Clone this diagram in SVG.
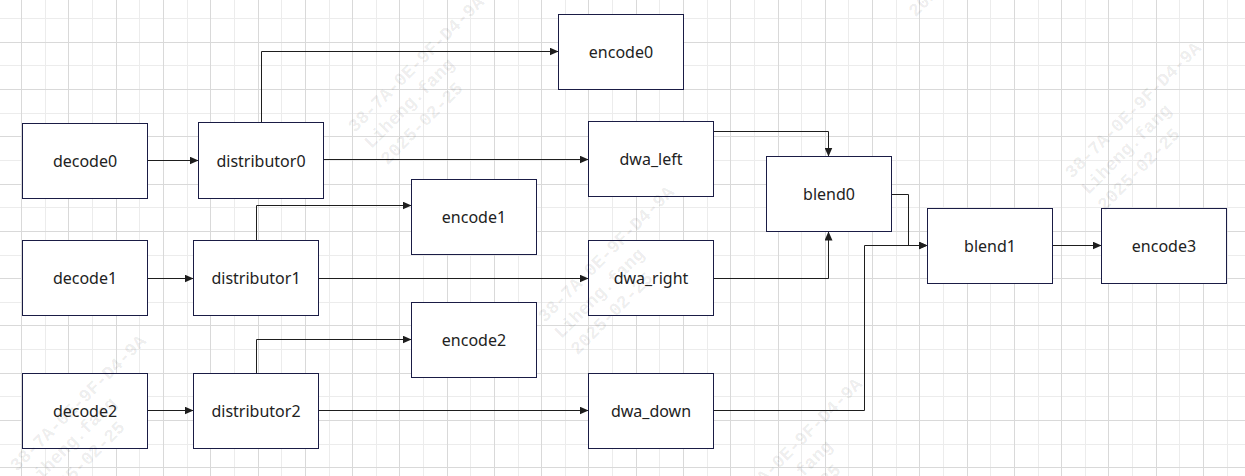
<svg xmlns="http://www.w3.org/2000/svg" width="1245" height="476" viewBox="0 0 1245 476">
<style>
.gmaj{stroke:#d9d9d9;stroke-width:1;fill:none}
.gmin{stroke:#ececec;stroke-width:1;fill:none}
.wm{font-family:"Liberation Mono",monospace;font-weight:bold;font-size:18px;fill:#000000;fill-opacity:0.085}
.box{fill:#ffffff;stroke:#1a1c45;stroke-width:1}
.lbl{font-family:"Noto Sans","Liberation Sans",sans-serif;font-size:16px;fill:#222222;text-anchor:middle}
.con{fill:none;stroke:#1e1e1e;stroke-width:1;marker-end:url(#arr)}
</style>
<defs>
<marker id="arr" markerUnits="userSpaceOnUse" markerWidth="9" markerHeight="8" refX="9" refY="4" orient="auto">
<path d="M0,0 L9,4 L0,8 z" fill="#1e1e1e"/>
</marker>
</defs>
<rect x="0" y="0" width="1245" height="476" fill="#ffffff"/>
<g id="grid">
<path class="gmin" d="M45.5,0V476M92.5,0V476M139.5,0V476M187.5,0V476M234.5,0V476M281.5,0V476M329.5,0V476M376.5,0V476M423.5,0V476M470.5,0V476M518.5,0V476M565.5,0V476M612.5,0V476M659.5,0V476M707.5,0V476M754.5,0V476M801.5,0V476M848.5,0V476M896.5,0V476M943.5,0V476M990.5,0V476M1038.5,0V476M1085.5,0V476M1132.5,0V476M1179.5,0V476M1227.5,0V476M0,18.5H1245M0,65.5H1245M0,113.5H1245M0,160.5H1245M0,207.5H1245M0,255.5H1245M0,302.5H1245M0,349.5H1245M0,396.5H1245M0,444.5H1245"/>
<path class="gmaj" d="M21.5,0V476M68.5,0V476M116.5,0V476M163.5,0V476M210.5,0V476M258.5,0V476M305.5,0V476M352.5,0V476M399.5,0V476M447.5,0V476M494.5,0V476M541.5,0V476M588.5,0V476M636.5,0V476M683.5,0V476M730.5,0V476M778.5,0V476M825.5,0V476M872.5,0V476M919.5,0V476M967.5,0V476M1014.5,0V476M1061.5,0V476M1108.5,0V476M1156.5,0V476M1203.5,0V476M0,42.5H1245M0,89.5H1245M0,136.5H1245M0,184.5H1245M0,231.5H1245M0,278.5H1245M0,325.5H1245M0,373.5H1245M0,420.5H1245M0,467.5H1245"/>
</g>
<g id="connectors">
<path class="con" d="M147.5,160.5H198.5"/>
<path class="con" d="M261.5,122.5V51.5H558.5"/>
<path class="con" d="M323.5,159.5H588.5"/>
<path class="con" d="M256.5,240.5V205.5H411.5"/>
<path class="con" d="M147.5,278.5H193.5"/>
<path class="con" d="M318.5,278.5H588.5"/>
<path class="con" d="M256.5,373.5V339.5H411.5"/>
<path class="con" d="M147.5,410.5H193.5"/>
<path class="con" d="M318.5,410.5H588.5"/>
<path class="con" d="M713.5,131.5H828.5V156.5"/>
<path class="con" d="M713.5,278.5H828.5V231.5"/>
<path class="con" d="M891.5,194.5H908.5V245.5H927.5"/>
<path class="con" d="M713.5,410.5H864.5V245.5H927.5"/>
<path class="con" d="M1052.5,245.5H1101.5"/>
</g>
<g id="decode0"><rect class="box" x="22.5" y="123.5" width="125" height="75"/><text class="lbl" x="85" y="167">decode0</text></g>
<g id="distributor0"><rect class="box" x="198.5" y="122.5" width="125" height="76"/><text class="lbl" x="261" y="167">distributor0</text></g>
<g id="encode0"><rect class="box" x="558.5" y="14.5" width="125" height="75"/><text class="lbl" x="621" y="58">encode0</text></g>
<g id="dwa_left"><rect class="box" x="588.5" y="121.5" width="125" height="75"/><text class="lbl" x="651" y="165">dwa_left</text></g>
<g id="encode1"><rect class="box" x="411.5" y="179.5" width="125" height="75"/><text class="lbl" x="474" y="223">encode1</text></g>
<g id="decode1"><rect class="box" x="22.5" y="240.5" width="125" height="75"/><text class="lbl" x="85" y="284">decode1</text></g>
<g id="distributor1"><rect class="box" x="193.5" y="240.5" width="125" height="75"/><text class="lbl" x="256" y="284">distributor1</text></g>
<g id="dwa_right"><rect class="box" x="588.5" y="240.5" width="125" height="75"/><text class="lbl" x="651" y="284">dwa_right</text></g>
<g id="encode2"><rect class="box" x="411.5" y="302.5" width="125" height="75"/><text class="lbl" x="474" y="346">encode2</text></g>
<g id="decode2"><rect class="box" x="22.5" y="373.5" width="125" height="75"/><text class="lbl" x="85" y="417">decode2</text></g>
<g id="distributor2"><rect class="box" x="193.5" y="373.5" width="125" height="75"/><text class="lbl" x="256" y="417">distributor2</text></g>
<g id="dwa_down"><rect class="box" x="588.5" y="373.5" width="125" height="75"/><text class="lbl" x="651" y="417">dwa_down</text></g>
<g id="blend0"><rect class="box" x="766.5" y="156.5" width="125" height="75"/><text class="lbl" x="829" y="200">blend0</text></g>
<g id="blend1"><rect class="box" x="927.5" y="208.5" width="125" height="75"/><text class="lbl" x="990" y="252">blend1</text></g>
<g id="encode3"><rect class="box" x="1101.5" y="208.5" width="125" height="75"/><text class="lbl" x="1164" y="252">encode3</text></g>
<g id="watermarks">
<text class="wm" transform="translate(17,472) rotate(-45)"><tspan x="0" y="0">38-7A-0E-9F-D4-9A</tspan><tspan x="0" y="23">Liheng.fang</tspan><tspan x="0" y="46">2025-02-25</tspan></text>
<text class="wm" transform="translate(355,133) rotate(-45)"><tspan x="0" y="0">38-7A-0E-9F-D4-9A</tspan><tspan x="0" y="23">Liheng.fang</tspan><tspan x="0" y="46">2025-02-25</tspan></text>
<text class="wm" transform="translate(545,323) rotate(-45)"><tspan x="0" y="0">38-7A-0E-9F-D4-9A</tspan><tspan x="0" y="23">Liheng.fang</tspan><tspan x="0" y="46">2025-02-25</tspan></text>
<text class="wm" transform="translate(733,515) rotate(-45)"><tspan x="0" y="0">38-7A-0E-9F-D4-9A</tspan><tspan x="0" y="23">Liheng.fang</tspan><tspan x="0" y="46">2025-02-25</tspan></text>
<text class="wm" transform="translate(883,-15) rotate(-45)"><tspan x="0" y="0">38-7A-0E-9F-D4-9A</tspan><tspan x="0" y="23">Liheng.fang</tspan><tspan x="0" y="46">2025-02-25</tspan></text>
<text class="wm" transform="translate(1072,179) rotate(-45)"><tspan x="0" y="0">38-7A-0E-9F-D4-9A</tspan><tspan x="0" y="23">Liheng.fang</tspan><tspan x="0" y="46">2025-02-25</tspan></text>
</g>
</svg>
